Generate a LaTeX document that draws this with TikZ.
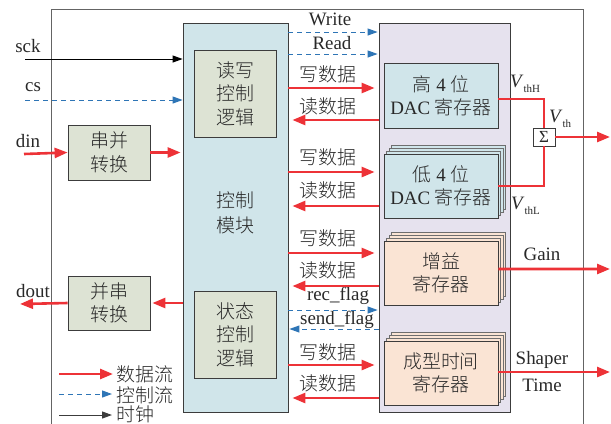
\documentclass[tikz,border=0pt]{standalone}
\usepackage{fontspec}
\setmainfont{Liberation Serif}
\newfontfamily\cjk{Noto Sans CJK SC}[UprightFont=* Light]
\usetikzlibrary{arrows.meta,shadows}
\definecolor{redA}{RGB}{237,50,55}
\definecolor{blueA}{RGB}{46,117,182}
\definecolor{ctrlfill}{RGB}{208,229,234}
\definecolor{logicfill}{RGB}{221,227,212}
\definecolor{regfill}{RGB}{230,226,238}
\definecolor{dacfill}{RGB}{208,229,234}
\definecolor{peach}{RGB}{250,228,212}
\definecolor{edge}{RGB}{60,60,60}
\definecolor{layeredge}{RGB}{110,110,110}
\definecolor{frame}{RGB}{100,100,100}
\definecolor{txt}{RGB}{40,40,40}
\newcommand\zh[1]{{\cjk #1}}
\newcommand\txtsize{\fontsize{19}{23.5}\selectfont}
\newcommand\subsize{\fontsize{11}{11}\selectfont}
\tikzset{
  dataflow/.style={draw=redA, line width=2.6bp, -{Triangle[length=13bp,width=10bp]}},
  redline/.style={draw=redA, line width=2.6bp},
  ctrlflow/.style={draw=blueA, line width=1bp, dash pattern=on 5bp off 4bp, -{Triangle[length=10bp,width=7bp]}},
  clkflow/.style={draw=black, line width=1bp, -{Triangle[length=10bp,width=7bp]}},
  lbl/.style={font=\txtsize, inner sep=0pt, text=txt},
  zhlbl/.style={font=\cjk\txtsize, inner sep=0pt, text=txt},
  box/.style={draw=edge, line width=0.8bp, inner sep=0pt, align=center, font=\txtsize, text=txt},
  zhbox/.style={box, font=\cjk\txtsize},
  stack/.style={
    general shadow={shadow xshift=7.5bp, shadow yshift=9bp, draw=layeredge, fill=#1, line width=0.6bp},
    general shadow={shadow xshift=5bp, shadow yshift=6bp, draw=layeredge, fill=#1, line width=0.6bp},
    general shadow={shadow xshift=2.5bp, shadow yshift=3bp, draw=layeredge, fill=#1, line width=0.6bp},
    fill=#1},
}
\begin{document}
\begin{tikzpicture}[x=1bp, y=-1bp]
\useasboundingbox (0,0) rectangle (611,423);
% outer frame
\draw[frame, line width=1bp] (51,430) -- (51,9) -- (583,9) -- (583,430);

% control block
\node[box, fill=ctrlfill, minimum width=105bp, minimum height=389bp] (ctrl) at (235.5,217.5) {};
\node[zhbox, fill=logicfill, minimum width=82bp, minimum height=87bp] (rw) at (235,93.5) {读写\\控制\\逻辑};
\node[zhbox, fill=logicfill, minimum width=82bp, minimum height=87bp] (st) at (235,334.5) {状态\\控制\\逻辑};
\node[zhlbl, align=center, font=\cjk\fontsize{19}{25}\selectfont] (ctrltxt) at (235,212.5) {控制\\模块};

% register block
\node[box, fill=regfill, minimum width=131bp, minimum height=389bp] (reg) at (444.5,217.5) {};
\node[box, fill=dacfill, minimum width=114bp, minimum height=65bp] (dachi) at (441,95.5) {\zh{高} 4 \zh{位}\\DAC \zh{寄存器}};
\node[box, stack=dacfill, minimum width=114bp, minimum height=64bp] (daclo) at (441,186) {\zh{低} 4 \zh{位}\\DAC \zh{寄存器}};
\node[zhbox, stack=peach, minimum width=114bp, minimum height=64bp] (gain) at (441,273) {增益\\寄存器};
\node[zhbox, stack=peach, minimum width=114bp, minimum height=64bp] (shaper) at (441,373) {成型时间\\寄存器};

% serial/parallel boxes
\node[zhbox, fill=logicfill, minimum width=82bp, minimum height=55bp] (sp) at (109,152.5) {串并\\转换};
\node[zhbox, fill=logicfill, minimum width=82bp, minimum height=54bp] (ps) at (109,303) {并串\\转换};

% sigma
\node[draw=edge, fill=white, line width=0.8bp, minimum width=22bp, minimum height=18bp, inner sep=0pt, text=txt, font=\fontsize{17}{17}\selectfont] (sigma) at (544,137) {Σ};

% left inputs
\node[lbl] (sck) at (28,46) {sck};
\node[lbl] (cs) at (33,87) {cs};
\node[lbl] (din) at (28,141) {din};
\node[lbl] (dout) at (33,291) {dout};
\coordinate (sckin) at (25,59);
\coordinate (csin) at (25,100);
\coordinate (dinin) at (24,154);
\coordinate (doutout) at (20,304);
\draw[clkflow] (sckin) -- (ctrl.west |- sckin);
\draw[ctrlflow] (csin) -- (ctrl.west |- csin);
\draw[dataflow] (dinin) -- (sp.west);
\draw[dataflow, shorten >=2bp] (sp.east) -- (ctrl.west |- sp.east);
\draw[dataflow, shorten >=2bp] (ctrl.west |- ps.east) -- (ps.east);
\draw[dataflow] (ps.west) -- (doutout);

% middle labels
\node[lbl] (wlbl) at (330,19) {Write};
\node[lbl] (rlbl) at (332,43) {Read};
\node[zhlbl] (w1) at (328,74) {写数据};
\node[zhlbl] (r1) at (328,106) {读数据};
\node[zhlbl] (w2) at (328,157) {写数据};
\node[zhlbl] (r2) at (328,190) {读数据};
\node[zhlbl] (w3) at (328,238) {写数据};
\node[zhlbl] (r3) at (328,270) {读数据};
\node[lbl] (rec) at (338,296) {rec\_flag};
\node[lbl] (send) at (337,320) {send\_flag};
\node[zhlbl] (w4) at (328,352) {写数据};
\node[zhlbl] (r4) at (328,383) {读数据};

% middle arrows
\draw[ctrlflow, shorten >=1bp] (ctrl.east |- 0,32) -- (reg.west |- 0,32);
\draw[ctrlflow, shorten >=1bp] (ctrl.east |- 0,54) -- (reg.west |- 0,54);
\draw[dataflow, shorten >=4bp] (ctrl.east |- 0,88) -- (reg.west |- 0,88);
\draw[dataflow, shorten >=4bp] (reg.west |- 0,120) -- (ctrl.east |- 0,120);
\draw[dataflow, shorten >=4bp] (ctrl.east |- 0,172) -- (reg.west |- 0,172);
\draw[dataflow, shorten >=4bp] (reg.west |- 0,206) -- (ctrl.east |- 0,206);
\draw[dataflow, shorten >=4bp] (ctrl.east |- 0,253) -- (reg.west |- 0,253);
\draw[dataflow, shorten >=4bp] (reg.west |- 0,286) -- (ctrl.east |- 0,286);
\draw[ctrlflow, shorten >=1bp] (ctrl.east |- 0,310) -- (reg.west |- 0,310);
\draw[ctrlflow, shorten >=1bp] (reg.west |- 0,329) -- (ctrl.east |- 0,329);
\draw[dataflow, shorten >=4bp] (ctrl.east |- 0,365) -- (reg.west |- 0,365);
\draw[dataflow, shorten >=4bp] (reg.west |- 0,398) -- (ctrl.east |- 0,398);

% right side outputs
\draw[redline] ([yshift=-3.5bp]dachi.east) -| (sigma.north);
\draw[redline] (daclo.east) -| (sigma.south);
\coordinate (vthout) at (610,137);
\coordinate (gainout) at (610,269);
\coordinate (shout) at (610,372);
\draw[dataflow] (sigma.east) -- (vthout);
\draw[dataflow] ([yshift=4bp]gain.east) -- (gainout);
\draw[dataflow] (shaper.east |- shout) -- (shout);

\node[lbl, anchor=west] (vthh) at (510,84) {\textit{V}\raisebox{-5bp}{\subsize thH}};
\node[lbl, anchor=west] (vth) at (549,119) {\textit{V}\raisebox{-5bp}{\subsize th}};
\node[lbl, anchor=west] (vthl) at (511,206) {\textit{V}\raisebox{-5bp}{\subsize thL}};
\node[lbl] (gaintxt) at (542,254) {Gain};
\node[lbl, align=center, font=\fontsize{19}{27}\selectfont] (shtxt) at (542,371.5) {Shaper\\Time};

% legend
\coordinate (l1a) at (59,374); \coordinate (l1b) at (113,374);
\coordinate (l2a) at (59,394); \coordinate (l2b) at (112,394);
\coordinate (l3a) at (59,415); \coordinate (l3b) at (112,415);
\draw[dataflow] (l1a) -- (l1b);
\draw[ctrlflow] (l2a) -- (l2b);
\draw[clkflow, draw=edge] (l3a) -- (l3b);
\node[zhlbl, anchor=west] (lg1) at (116,374) {数据流};
\node[zhlbl, anchor=west] (lg2) at (116,395) {控制流};
\node[zhlbl, anchor=west] (lg3) at (116,414) {时钟};
\end{tikzpicture}
\end{document}
